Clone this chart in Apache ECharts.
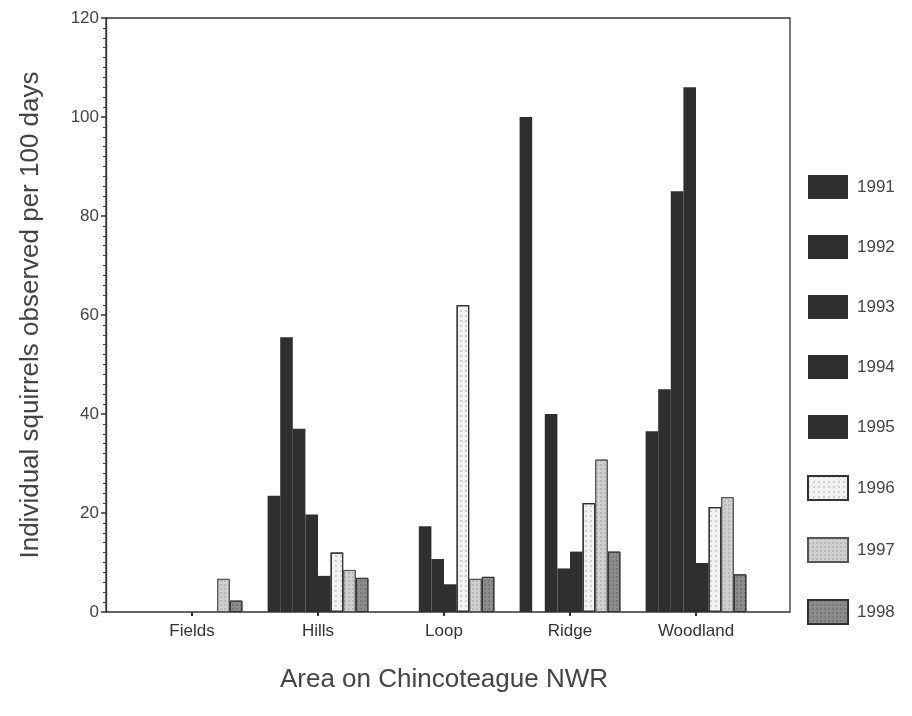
<!DOCTYPE html>
<html>
<head>
<meta charset="utf-8">
<script src="https://cdn.jsdelivr.net/npm/echarts@6/dist/echarts.min.js"></script>
<style>html,body{margin:0;padding:0;background:#fff}#c{width:912px;height:716px}</style>
</head>
<body>
<div id="c"></div>
<script>
const categories = ['Fields', 'Hills', 'Loop', 'Ridge', 'Woodland'];
const years = ['1991', '1992', '1993', '1994', '1995', '1996', '1997', '1998'];
const v1991 = [0, 23.5, 0, 100, 36.5];
const v1992 = [0, 55.5, 0, 0, 45];
const v1993 = [0, 37, 17.3, 40, 85];
const v1994 = [0, 19.7, 10.7, 8.8, 106];
const v1995 = [0, 7.3, 5.6, 12.2, 9.9];
const v1996 = [0, 12, 62, 22, 21.2];
const v1997 = [6.7, 8.5, 6.7, 30.8, 23.2];
const v1998 = [2.3, 6.9, 7.1, 12.2, 7.6];
const yTicks = [0, 20, 40, 60, 80, 100, 120];

const values = [v1991, v1992, v1993, v1994, v1995, v1996, v1997, v1998];
const dark = '#2f2f2f';
const styles = [
  {color: dark},
  {color: dark},
  {color: dark},
  {color: dark},
  {color: dark},
  {color: '#f2f2f2', borderColor: '#333', borderWidth: 1.2,
   decal: {symbol: 'circle', symbolSize: 0.7, color: 'rgba(70,70,70,0.55)', dashArrayX: [[2, 3]], dashArrayY: [2, 3], rotation: 0}},
  {color: '#cfcfcf', borderColor: '#555', borderWidth: 1,
   decal: {symbol: 'circle', symbolSize: 0.7, color: 'rgba(100,100,100,0.55)', dashArrayX: [[2, 2]], dashArrayY: [2, 2], rotation: 0}},
  {color: '#8c8c8c', borderColor: '#333', borderWidth: 1,
   decal: {symbol: 'circle', symbolSize: 0.7, color: 'rgba(40,40,40,0.55)', dashArrayX: [[2, 2]], dashArrayY: [2, 2], rotation: 0}}
];

const font = 'Liberation Sans, Arial, sans-serif';
const chart = echarts.init(document.getElementById('c'));
chart.setOption({
  backgroundColor: '#fff',
  animation: false,
  grid: [
    {left: 106, right: 122, top: 18, bottom: 104, show: true, borderColor: '#333', borderWidth: 1.3, backgroundColor: 'transparent'},
    {left: 129, right: 153, top: 18, bottom: 104}
  ],
  legend: {
    orient: 'vertical', left: 807, top: 175, padding: 0,
    icon: 'rect',
    itemWidth: 40, itemHeight: 24, itemGap: 36,
    textStyle: {fontFamily: font, fontSize: 17, color: '#444', padding: [0, 0, 0, 4]},
    data: years
  },
  xAxis: [
    {type: 'value', gridIndex: 0, min: 0, max: 1, show: false},
    {type: 'category', gridIndex: 1, data: categories,
     axisLine: {show: false},
     axisTick: {show: true, alignWithLabel: true, length: 4, lineStyle: {color: '#333', width: 2}},
     axisLabel: {fontFamily: font, fontSize: 17, color: '#333', margin: 11},
     name: 'Area on Chincoteague NWR', nameLocation: 'middle', nameGap: 55,
     nameTextStyle: {fontFamily: font, fontSize: 26, color: '#444'}}
  ],
  yAxis: [
    {type: 'value', gridIndex: 0, min: 0, max: 120, interval: 20,
     axisLine: {show: true, lineStyle: {color: '#333', width: 1.3}},
     axisTick: {show: true, length: 5, lineStyle: {color: '#333', width: 1.5}},
     minorTick: {show: true, splitNumber: 10, length: 3, lineStyle: {color: '#444'}},
     splitLine: {show: false},
     axisLabel: {fontFamily: font, fontSize: 17, color: '#444', margin: 7,
       formatter: function (v) { return yTicks.indexOf(v) >= 0 ? String(v) : ''; }},
     name: 'Individual squirrels observed per 100 days', nameLocation: 'middle', nameGap: 62,
     nameTextStyle: {fontFamily: font, fontSize: 26, color: '#444'}},
    {type: 'value', gridIndex: 1, min: 0, max: 120, show: false}
  ],
  series: years.map(function (y, i) {
    return {
      name: y, type: 'bar', xAxisIndex: 1, yAxisIndex: 1,
      data: values[i].map(function (v) { return v === 0 ? '-' : v; }),
      barGap: '0%', barCategoryGap: '20%',
      itemStyle: styles[i]
    };
  })
});
</script>
</body>
</html>
